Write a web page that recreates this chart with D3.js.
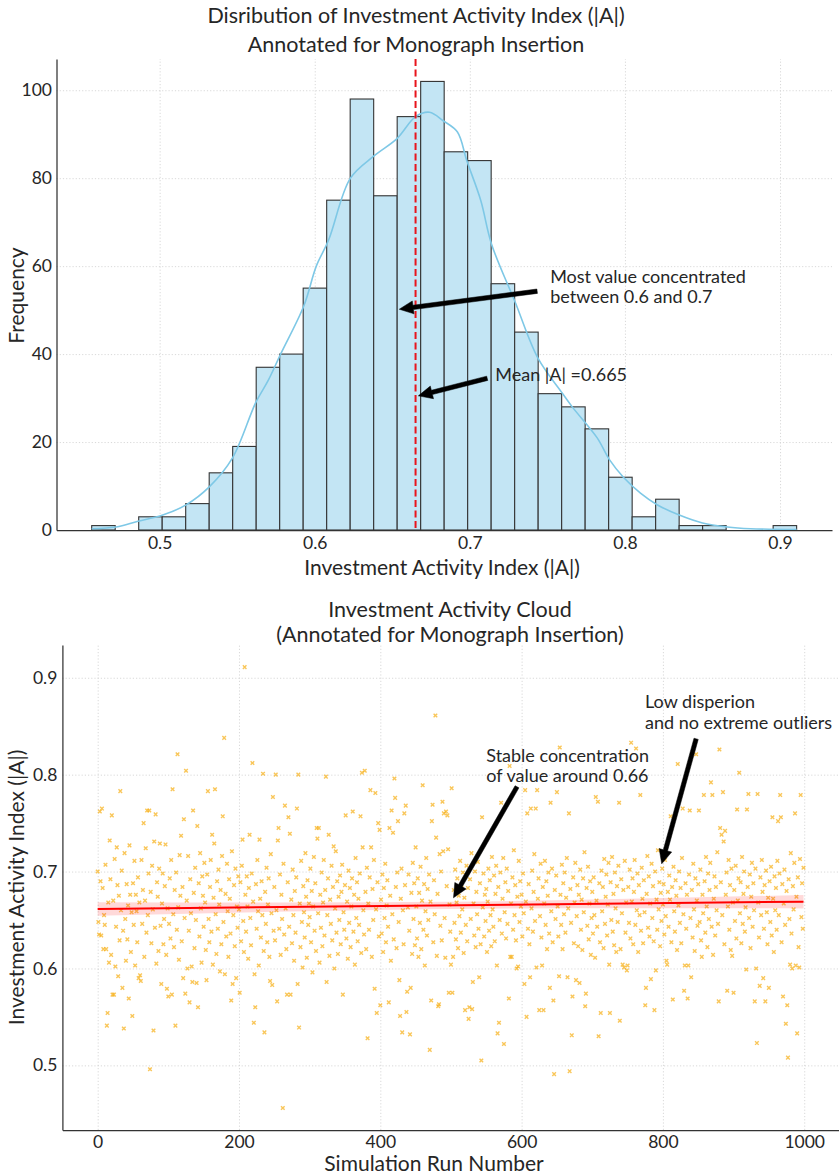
<!DOCTYPE html>
<html><head><meta charset="utf-8">
<script src="https://cdn.jsdelivr.net/npm/d3@7"></script>
<style>
body{margin:0;background:#fff}
text{font-family:Lato,"Open Sans","DejaVu Sans",sans-serif;fill:#262626}
</style>
</head><body>
<svg id="chart" width="839" height="1176"></svg>
<script>
// ---------- Panel 1: histogram ----------
const binStart = 0.4562;
const binWidth = 0.01515;
const binCounts = [1,0,3,3,6,13,19,37,40,55,75,98,76,94,102,86,84,56,45,31,28,23,12,3,7,1,1,0,0,1];
const kdeX = [0.4562,0.472,0.486,0.502,0.517,0.532,0.547,0.562,0.570,0.578,0.593,0.601,0.609,0.623,0.638,0.653,0.665,0.674,0.683,0.692,0.698,0.707,0.714,0.729,0.744,0.759,0.766,0.782,0.790,0.799,0.810,0.821,0.835,0.850,0.866,0.881,0.9107];
const kdeY = [0.3,0.7,2.0,3.4,5.7,9.8,16.4,29,34,40,51,60,66,80,85,89,94,95,93,90.5,84,75,65,52,39,31.4,28,21,16,12,8.4,5.7,3.4,1.6,0.7,0.3,0.1];
const meanValue = 0.665;
const histXTicks = [0.5,0.6,0.7,0.8,0.9];
const histYTicks = [0,20,40,60,80,100];

// ---------- Panel 2: scatter ----------
const activity = [
.700,.648,.635,.762,.690,.634,.765,.683,.620,.655,.645,.707,.620,.541,.554,.668,.606,.732,.692,.614,.758,.573,.670,.573,.713,.602,.643,.725,.686,.592,.675,.629,.783,.660,.701,.580,.639,.538,.719,.651,.608,.687,.630,.665,.569,.727,.676,.617,.658,.551,
.688,.645,.711,.603,.676,.659,.627,.694,.590,.668,.593,.587,.712,.646,.681,.750,.612,.670,.724,.637,.763,.655,.698,.763,.496,.679,.626,.706,.661,.536,.731,.642,.759,.605,.689,.674,.618,.703,.729,.644,.584,.667,.698,.625,.651,.685,.728,.614,.579,.662,
.571,.646,.693,.631,.712,.573,.785,.656,.622,.681,.541,.699,.640,.821,.663,.609,.717,.675,.737,.628,.684,.590,.754,.652,.574,.804,.670,.600,.716,.639,.565,.692,.657,.602,.586,.763,.678,.621,.704,.650,.585,.747,.560,.688,.633,.719,.662,.606,.695,.675,
.643,.709,.668,.619,.588,.697,.783,.651,.627,.684,.712,.638,.738,.604,.673,.729,.785,.656,.615,.690,.641,.702,.666,.597,.681,.625,.716,.757,.648,.838,.594,.677,.633,.708,.659,.612,.692,.672,.636,.567,.721,.584,.655,.686,.623,.703,.590,.664,.642,.695,
.661,.575,.689,.628,.706,.733,.649,.617,.911,.676,.638,.695,.664,.610,.683,.738,.652,.624,.698,.812,.669,.544,.594,.560,.687,.641,.712,.659,.603,.733,.672,.632,.690,.655,.801,.618,.534,.679,.646,.704,.627,.666,.693,.612,.587,.718,.657,.583,.777,.639,
.684,.629,.800,.660,.566,.732,.745,.641,.697,.614,.676,.651,.456,.708,.635,.768,.662,.620,.573,.689,.756,.643,.739,.573,.671,.626,.702,.655,.608,.680,.637,.694,.765,.584,.800,.539,.667,.622,.711,.648,.601,.685,.658,.632,.719,.674,.611,.691,.645,.667,
.653,.703,.627,.680,.596,.664,.715,.639,.688,.618,.745,.734,.657,.745,.606,.676,.642,.699,.623,.668,.712,.634,.681,.798,.586,.655,.693,.738,.613,.671,.646,.706,.629,.684,.726,.600,.662,.721,.637,.690,.615,.674,.650,.696,.625,.679,.707,.573,.658,.640,
.686,.758,.631,.669,.610,.701,.647,.683,.622,.664,.693,.762,.638,.676,.604,.714,.652,.689,.628,.672,.645,.698,.757,.616,.802,.725,.660,.635,.804,.679,.620,.704,.528,.667,.640,.694,.784,.725,.612,.682,.650,.712,.579,.781,.661,.554,.689,.750,.633,.743,
.562,.671,.636,.697,.617,.683,.652,.708,.627,.665,.691,.643,.565,.745,.675,.608,.763,.656,.740,.630,.796,.776,.684,.621,.699,.752,.648,.588,.551,.672,.703,.534,.660,.625,.760,.686,.768,.555,.576,.663,.697,.639,.532,.580,.678,.615,.709,.651,.688,.624,
.725,.664,.631,.693,.612,.678,.647,.705,.620,.670,.789,.640,.687,.603,.659,.714,.634,.682,.650,.697,.516,.669,.567,.752,.769,.627,.691,.656,.861,.735,.613,.677,.561,.563,.718,.644,.700,.629,.772,.721,.760,.652,.611,.762,.685,.758,.723,.575,.666,.638,
.604,.786,.575,.612,.681,.647,.702,.630,.668,.693,.621,.675,.654,.711,.637,.686,.661,.699,.616,.673,.557,.645,.706,.628,.683,.548,.560,.692,.651,.719,.558,.586,.667,.634,.700,.622,.679,.656,.710,.641,.591,.688,.625,.505,.756,.663,.698,.633,.676,.649,
.682,.617,.669,.703,.639,.691,.655,.623,.715,.661,.643,.696,.628,.677,.706,.603,.533,.684,.544,.650,.699,.771,.636,.672,.714,.522,.658,.689,.631,.703,.646,.680,.569,.809,.612,.667,.612,.694,.640,.722,.655,.686,.629,.600,.674,.602,.711,.648,.690,.664,
.676,.633,.698,.657,.584,.784,.669,.550,.760,.641,.687,.625,.591,.765,.662,.701,.638,.679,.718,.649,.765,.601,.784,.672,.693,.557,.654,.708,.632,.603,.684,.557,.667,.711,.645,.690,.620,.675,.699,.636,.580,.771,.659,.703,.627,.567,.491,.681,.651,.696,
.782,.664,.633,.592,.828,.676,.645,.707,.620,.688,.656,.699,.637,.673,.714,.591,.662,.760,.494,.682,.647,.531,.571,.694,.626,.668,.709,.588,.654,.686,.623,.676,.585,.702,.640,.671,.619,.693,.658,.720,.561,.574,.683,.644,.705,.630,.667,.690,.614,.652,
.679,.636,.694,.655,.611,.777,.670,.643,.772,.530,.688,.627,.554,.701,.659,.684,.621,.713,.646,.674,.697,.634,.666,.709,.604,.554,.689,.650,.715,.638,.677,.624,.699,.662,.617,.685,.648,.706,.771,.546,.620,.692,.657,.604,.681,.601,.711,.637,.668,.598,
.603,.684,.647,.702,.631,.833,.669,.693,.625,.679,.712,.645,.827,.660,.698,.617,.686,.655,.779,.639,.704,.672,.626,.691,.658,.562,.580,.677,.716,.642,.695,.633,.667,.589,.708,.652,.685,.628,.557,.700,.598,.671,.640,.722,.661,.689,.623,.678,.649,.703,
.666,.687,.635,.712,.654,.608,.604,.679,.643,.696,.671,.757,.627,.684,.568,.705,.659,.638,.691,.675,.619,.811,.665,.700,.647,.683,.626,.714,.765,.656,.577,.603,.688,.641,.676,.569,.603,.697,.763,.652,.591,.681,.632,.708,.661,.618,.693,.821,.670,.644,
.687,.763,.648,.702,.629,.612,.676,.657,.779,.690,.637,.715,.664,.622,.698,.651,.681,.709,.792,.643,.779,.614,.672,.695,.634,.684,.660,.720,.646,.566,.826,.745,.689,.738,.655,.782,.731,.625,.742,.676,.699,.577,.664,.712,.640,.686,.619,.703,.613,.668,
.575,.681,.649,.706,.631,.764,.670,.693,.802,.657,.689,.626,.715,.646,.677,.700,.638,.663,.599,.764,.684,.780,.652,.697,.621,.674,.709,.643,.688,.660,.566,.703,.600,.523,.780,.668,.632,.582,.694,.655,.712,.679,.590,.641,.686,.566,.701,.658,.625,.673,
.580,.690,.648,.705,.634,.756,.672,.617,.695,.660,.683,.640,.711,.752,.655,.698,.779,.756,.627,.687,.571,.667,.702,.645,.543,.680,.562,.508,.692,.651,.604,.719,.636,.600,.685,.661,.709,.760,.603,.674,.533,.694,.622,.601,.713,.779,.653,.688,.641,.704
];
const runXTicks = [0,200,400,600,800,1000];
const runYTicks = [0.5,0.6,0.7,0.8,0.9];
const regX = [0, 999];
const regY = [0.6614, 0.6689];
const bandX = [0, 250, 500, 750, 999];
const bandHalf = [0.0070, 0.0048, 0.0037, 0.0048, 0.0070];

// ---------- texts ----------
const topTitle = ["Disribution of Investment Activity Index (|A|)", "Annotated for Monograph Insertion"];
const botTitle = ["Investment Activity Cloud", "(Annotated for Monograph Insertion)"];
const histXLabel = "Investment Activity Index (|A|)";
const histYLabel = "Frequency";
const runXLabel = "Simulation Run Number";
const runYLabel = "Investment Activity Index (|A|)";
const histNotes = [
  {lines:["Most value concentrated","between 0.6 and 0.7"], tx:0.7518, ty:56.2, ax:0.7434, ay:54.3, px:0.6545, py:50.2},
  {lines:["Mean |A| =0.665"], tx:0.7164, ty:33.8, ax:0.7112, ay:34.5, px:0.6668, py:30.5}
];
const runNotes = [
  {lines:["Stable concentration","of value around 0.66"], tx:550, ty:0.8135, ax:593.5, ay:0.7875, px:503.6, py:0.6729},
  {lines:["Low disperion","and no extreme outliers"], tx:774.7, ty:0.8686, ax:847, ay:0.837, px:798.3, py:0.708}
];

const FS_TITLE = 21.5, FS_LABEL = 21, FS_TICK = 17.5, FS_NOTE = 18, NOTE_LH = 20.5;

const svg = d3.select("#chart");
svg.append("rect").attr("width",839).attr("height",1176).attr("fill","#fff");

function arrow(g, x1, y1, x2, y2) {
  const dx = x2-x1, dy = y2-y1, L = Math.hypot(dx,dy);
  const ux = dx/L, uy = dy/L, nx = -uy, ny = ux;
  const sw = 2.2, hw = 6.5, hl = 14;
  const bx = x2 - ux*hl, by = y2 - uy*hl;
  const pts = [
    [x1+nx*sw, y1+ny*sw],[bx+nx*sw, by+ny*sw],[bx+nx*hw, by+ny*hw],[x2,y2],
    [bx-nx*hw, by-ny*hw],[bx-nx*sw, by-ny*sw],[x1-nx*sw, y1-ny*sw]];
  g.append("path").attr("d", d3.line()(pts)+"Z").attr("fill","#000").attr("stroke","#000").attr("stroke-width",0.5);
}

function styleAxis(g){
  g.selectAll(".domain").attr("stroke","#333").attr("stroke-width",1.25);
  g.selectAll("text").attr("font-size",FS_TICK+"px").attr("fill","#262626")
    .style("font-family","Lato, sans-serif");
}
function gridStyle(a){
  a.select(".domain").remove();
  a.selectAll("line").attr("stroke","#cfcfcf").attr("stroke-width",0.8).attr("stroke-dasharray","1.2,2");
}

// ===== Panel 1 =====
{
  const L = 56.5, R = 832, T = 59, B = 530;
  const x = d3.scaleLinear().domain([0.4335, 0.9335]).range([L, R]);
  const y = d3.scaleLinear().domain([0, 107.1]).range([B, T]);
  const g = svg.append("g");

  g.append("g").attr("transform",`translate(0,${B})`)
    .call(d3.axisBottom(x).tickValues(histXTicks).tickSize(-(B-T)).tickFormat("")).call(gridStyle);
  g.append("g").attr("transform",`translate(${L},0)`)
    .call(d3.axisLeft(y).tickValues(histYTicks).tickSize(-(R-L)).tickFormat("")).call(gridStyle);

  const bins = binCounts.map((c,i)=>({x0: binStart + i*binWidth, x1: binStart + (i+1)*binWidth, c}));
  g.append("g").selectAll("rect").data(bins.filter(b=>b.c>0)).join("rect")
    .attr("x", d=>x(d.x0)).attr("width", d=>x(d.x1)-x(d.x0))
    .attr("y", d=>y(d.c)).attr("height", d=>y(0)-y(d.c))
    .attr("fill","#c3e5f4").attr("stroke","#333").attr("stroke-width",1.1);

  g.append("path").datum(kdeX.map((v,i)=>[v,kdeY[i]]))
    .attr("d", d3.line().x(d=>x(d[0])).y(d=>y(d[1])).curve(d3.curveCatmullRom.alpha(0.5)))
    .attr("fill","none").attr("stroke","#7ec8e6").attr("stroke-width",1.6);

  g.append("line").attr("x1",x(meanValue)).attr("x2",x(meanValue)).attr("y1",T).attr("y2",B)
    .attr("stroke","#e8141c").attr("stroke-width",2).attr("stroke-dasharray","7,3.5");

  g.append("g").attr("transform",`translate(0,${B})`)
    .call(d3.axisBottom(x).tickValues(histXTicks).tickSize(0).tickPadding(7).tickFormat(d3.format(".1f")))
    .call(styleAxis);
  g.append("g").attr("transform",`translate(${L},0)`)
    .call(d3.axisLeft(y).tickValues(histYTicks).tickSize(0).tickPadding(4.5).tickFormat(d3.format("d")))
    .call(styleAxis);

  histNotes.forEach(n=>{
    arrow(g, x(n.ax), y(n.ay), x(n.px), y(n.py));
    const t = g.append("text").attr("x",x(n.tx)).attr("y",y(n.ty)).attr("font-size",FS_NOTE+"px");
    n.lines.forEach((s,i)=>t.append("tspan").attr("x",x(n.tx)).attr("dy", i? NOTE_LH:0).text(s));
  });

  const tt = svg.append("text").attr("x",416).attr("y",23.3).attr("text-anchor","middle").attr("font-size",FS_TITLE+"px");
  topTitle.forEach((s,i)=>tt.append("tspan").attr("x",416).attr("dy", i?29:0).text(s));
  svg.append("text").attr("x",442).attr("y",574.5).attr("text-anchor","middle").attr("font-size",FS_LABEL+"px").text(histXLabel);
  svg.append("text").attr("transform",`translate(24,${(T+B)/2+1}) rotate(-90)`).attr("text-anchor","middle").attr("font-size",FS_LABEL+"px").text(histYLabel);
}

// ===== Panel 2 =====
{
  const L = 62.4, R = 838.8, T = 645, B = 1130;
  const x = d3.scaleLinear().domain([-49.95, 1048.95]).range([L, R]);
  const y = d3.scaleLinear().domain([0.4333, 0.9338]).range([B, T]);
  const g = svg.append("g");

  g.append("g").attr("transform",`translate(0,${B})`)
    .call(d3.axisBottom(x).tickValues(runXTicks).tickSize(-(B-T)).tickFormat("")).call(gridStyle);
  g.append("g").attr("transform",`translate(${L},0)`)
    .call(d3.axisLeft(y).tickValues(runYTicks).tickSize(-(R-L)).tickFormat("")).call(gridStyle);

  g.append("g").selectAll("path").data(activity).join("path")
    .attr("transform",(d,i)=>`translate(${x(i)},${y(d)})`)
    .attr("d","M-1.8,-1.8L1.8,1.8M-1.8,1.8L1.8,-1.8")
    .attr("stroke","#f7b019").attr("stroke-width",1.4).attr("stroke-opacity",0.72).attr("fill","none");

  const band = bandX.map((v,i)=>{
    const m = regY[0] + (regY[1]-regY[0])*(v-regX[0])/(regX[1]-regX[0]);
    return [v, m-bandHalf[i], m+bandHalf[i]];
  });
  g.append("path").datum(band)
    .attr("d", d3.area().x(d=>x(d[0])).y0(d=>y(d[1])).y1(d=>y(d[2])).curve(d3.curveMonotoneX))
    .attr("fill","#ff0000").attr("fill-opacity",0.15);
  g.append("path").datum(regX.map((v,i)=>[v,regY[i]]))
    .attr("d", d3.line().x(d=>x(d[0])).y(d=>y(d[1])))
    .attr("stroke","#ff0000").attr("stroke-width",2).attr("fill","none");

  g.append("g").attr("transform",`translate(0,${B})`)
    .call(d3.axisBottom(x).tickValues(runXTicks).tickSize(0).tickPadding(5.5).tickFormat(d3.format("d")))
    .call(styleAxis);
  g.append("g").attr("transform",`translate(${L},0)`)
    .call(d3.axisLeft(y).tickValues(runYTicks).tickSize(0).tickPadding(5).tickFormat(d3.format(".1f")))
    .call(styleAxis);

  runNotes.forEach(n=>{
    arrow(g, x(n.ax), y(n.ay), x(n.px), y(n.py));
    const t = g.append("text").attr("x",x(n.tx)).attr("y",y(n.ty)).attr("font-size",FS_NOTE+"px");
    n.lines.forEach((s,i)=>t.append("tspan").attr("x",x(n.tx)).attr("dy", i? NOTE_LH:0).text(s));
  });

  const tt = svg.append("text").attr("x",450).attr("y",616.5).attr("text-anchor","middle").attr("font-size",FS_TITLE+"px");
  botTitle.forEach((s,i)=>tt.append("tspan").attr("x",450).attr("dy", i?25:0).text(s));
  svg.append("text").attr("x",434).attr("y",1171).attr("text-anchor","middle").attr("font-size",FS_LABEL+"px").text(runXLabel);
  svg.append("text").attr("transform",`translate(24,${(T+B)/2}) rotate(-90)`).attr("text-anchor","middle").attr("font-size",FS_LABEL+"px").text(runYLabel);
}
</script>
</body></html>
